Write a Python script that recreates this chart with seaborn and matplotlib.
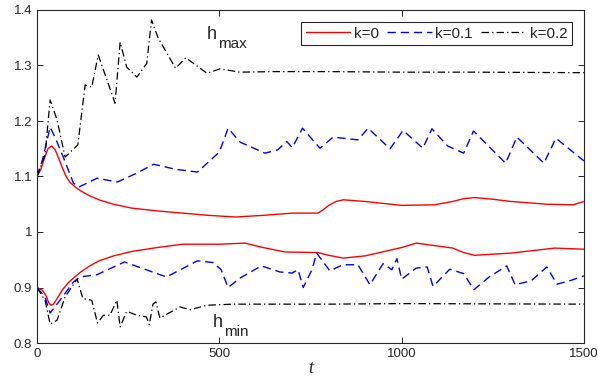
import numpy as np
import pandas as pd
import matplotlib
matplotlib.use("Agg")
import matplotlib.pyplot as plt
import seaborn as sns

# k=0 (red, solid)
t_k0_max = [0, 10, 20, 30, 40, 50, 60, 70, 80, 90, 105, 120, 145, 170, 210, 260, 330, 400, 470,
            545, 620, 700, 770, 785, 800, 820, 840, 900, 1000, 1090, 1140, 1170, 1200, 1250,
            1300, 1400, 1470, 1500]
h_k0_max = [1.100, 1.112, 1.132, 1.150, 1.155, 1.148, 1.132, 1.115, 1.100, 1.090, 1.081, 1.074,
            1.065, 1.058, 1.050, 1.043, 1.038, 1.034, 1.030, 1.027, 1.030, 1.034, 1.034, 1.040,
            1.048, 1.055, 1.058, 1.055, 1.048, 1.049, 1.055, 1.060, 1.062, 1.059, 1.055, 1.050,
            1.049, 1.055]
t_k0_min = [0, 15, 25, 32, 38, 45, 55, 70, 85, 100, 120, 145, 170, 210, 260, 330, 400, 500, 570,
            620, 680, 770, 800, 840, 900, 1000, 1040, 1140, 1170, 1200, 1300, 1420, 1500]
h_k0_min = [0.900, 0.895, 0.885, 0.873, 0.868, 0.870, 0.880, 0.896, 0.908, 0.917, 0.928, 0.939,
            0.948, 0.957, 0.965, 0.972, 0.978, 0.978, 0.980, 0.972, 0.964, 0.963, 0.958, 0.953,
            0.957, 0.972, 0.980, 0.971, 0.963, 0.958, 0.962, 0.971, 0.969]

# k=0.1 (blue, dashed)
t_k1_max = [0, 15, 36, 50, 72, 100, 115, 165, 220, 270, 320, 380, 440, 500, 524, 557, 625, 660,
            685, 700, 728, 776, 812, 880, 908, 968, 1004, 1058, 1083, 1126, 1170, 1197, 1285,
            1316, 1390, 1423, 1500]
h_k1_max = [1.100, 1.130, 1.189, 1.170, 1.135, 1.088, 1.081, 1.097, 1.090, 1.105, 1.122, 1.113,
            1.108, 1.144, 1.187, 1.162, 1.142, 1.148, 1.163, 1.152, 1.187, 1.151, 1.171, 1.166,
            1.187, 1.150, 1.183, 1.151, 1.186, 1.155, 1.142, 1.182, 1.124, 1.171, 1.124, 1.169,
            1.128]
t_k1_min = [0, 22, 36, 63, 100, 118, 164, 240, 355, 440, 483, 505, 524, 557, 615, 666, 699, 716,
            730, 754, 767, 803, 839, 880, 913, 949, 973, 987, 1000, 1040, 1070, 1086, 1132, 1170,
            1198, 1240, 1288, 1311, 1355, 1398, 1426, 1465, 1500]
h_k1_min = [0.900, 0.883, 0.854, 0.877, 0.910, 0.919, 0.923, 0.946, 0.919, 0.948, 0.945, 0.932,
            0.900, 0.917, 0.939, 0.928, 0.926, 0.932, 0.900, 0.932, 0.962, 0.930, 0.941, 0.941,
            0.905, 0.943, 0.932, 0.952, 0.915, 0.935, 0.937, 0.902, 0.933, 0.925, 0.896, 0.919,
            0.939, 0.905, 0.912, 0.937, 0.906, 0.913, 0.921]

# k=0.2 (black, dash-dot)
t_k2_max = [0, 22, 36, 55, 77, 112, 132, 150, 168, 214, 228, 246, 274, 301, 314, 332, 380, 408,
            466, 502, 557, 650, 800, 1000, 1200, 1500]
h_k2_max = [1.100, 1.139, 1.238, 1.202, 1.135, 1.157, 1.265, 1.261, 1.319, 1.232, 1.342, 1.297,
            1.279, 1.304, 1.382, 1.350, 1.295, 1.314, 1.286, 1.294, 1.288, 1.289, 1.289, 1.288,
            1.288, 1.287]
t_k2_min = [0, 22, 36, 55, 77, 110, 126, 150, 166, 182, 200, 219, 228, 246, 274, 300, 308, 318,
            326, 337, 392, 420, 466, 537, 800, 1000, 1500]
h_k2_min = [0.900, 0.877, 0.834, 0.841, 0.883, 0.915, 0.880, 0.877, 0.836, 0.850, 0.850, 0.877,
            0.829, 0.857, 0.850, 0.847, 0.833, 0.870, 0.874, 0.845, 0.865, 0.860, 0.868, 0.870,
            0.870, 0.871, 0.870]

sns.set_style("ticks")
plt.rcParams['font.family'] = ['Liberation Sans', 'DejaVu Sans']

fig = plt.figure(figsize=(5.98, 3.87), dpi=100)
ax = fig.add_axes([37 / 598, 44 / 387, 547 / 598, 333 / 387])

series = [
    ("k=0", t_k0_max, h_k0_max, t_k0_min, h_k0_min, "#ff0000", "-", 1.0),
    ("k=0.1", t_k1_max, h_k1_max, t_k1_min, h_k1_min, "#0000ff", (0, (6, 3.5)), 1.0),
    ("k=0.2", t_k2_max, h_k2_max, t_k2_min, h_k2_min, "#000000", (0, (6, 2.5, 1, 2.5)), 0.9),
]
for name, tx, hx, tn, hn, color, ls, lw in series:
    sns.lineplot(x=tx, y=hx, color=color, linestyle=ls, linewidth=lw, label=name, ax=ax)
    sns.lineplot(x=tn, y=hn, color=color, linestyle=ls, linewidth=lw, label="_nolegend_", ax=ax)

ax.set_xlim(0, 1500)
ax.set_ylim(0.8, 1.4)
ax.set_xticks([0, 500, 1000, 1500])
ax.set_yticks([0.8, 0.9, 1.0, 1.1, 1.2, 1.3, 1.4])
ax.set_yticklabels(["0.8", "0.9", "1", "1.1", "1.2", "1.3", "1.4"])
ax.tick_params(direction="in", length=4, width=0.7, top=True, right=True,
               labelsize=9.5, colors="#262626")
for s in ax.spines.values():
    s.set_visible(True)
    s.set_color("#262626")
    s.set_linewidth(0.8)

ax.set_xlabel("t", fontsize=13, fontstyle="italic", family="Liberation Serif", labelpad=0)
ax.set_ylabel("")

ax.text(466, 1.348, "h", fontsize=13, va="baseline", ha="left")
ax.text(496, 1.332, "max", fontsize=11, va="baseline", ha="left")
ax.text(483, 0.829, "h", fontsize=13, va="baseline", ha="left")
ax.text(513, 0.813, "min", fontsize=11, va="baseline", ha="left")

leg = ax.legend(loc="upper right", ncol=3, fontsize=11, handlelength=2.9, handletextpad=0.25,
                columnspacing=0.55, borderaxespad=0.8, borderpad=0.3, fancybox=False,
                framealpha=1, edgecolor="#262626")
leg.get_frame().set_linewidth(0.8)

fig.savefig("out.png", dpi=100)
